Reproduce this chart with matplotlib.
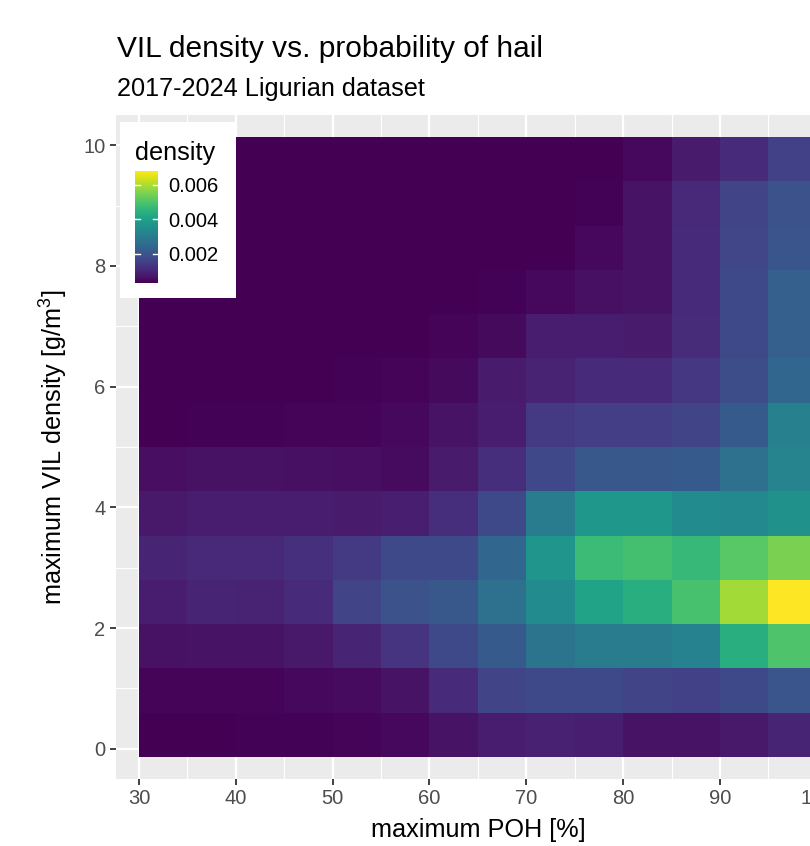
import numpy as np
import matplotlib
matplotlib.use("Agg")
import matplotlib.pyplot as plt
from matplotlib.colors import Normalize

plt.rcParams["font.family"] = ["Liberation Sans", "DejaVu Sans"]
plt.rcParams["mathtext.fontset"] = "custom"
plt.rcParams["mathtext.rm"] = "Liberation Sans"
plt.rcParams["mathtext.it"] = "Liberation Sans:italic"

# ---- data ----
poh_edges = [30, 35, 40, 45, 50, 55, 60, 65, 70, 75, 80, 85, 90, 95, 100]
vil_edges = [-0.13, 0.60, 1.34, 2.07, 2.80, 3.53, 4.27, 5.00, 5.73, 6.47,
             7.20, 7.93, 8.66, 9.40, 10.13]
# density values (x 1e-3), rows from lowest VIL bin to highest, columns by POH bin
density_x1e3 = [
    [0.30, 0.30, 0.33, 0.33, 0.37, 0.43, 0.63, 0.79, 0.89, 0.85, 0.63, 0.63, 0.72, 0.95],
    [0.37, 0.37, 0.37, 0.43, 0.50, 0.63, 1.08, 1.60, 1.73, 1.73, 1.60, 1.54, 1.73, 1.99],
    [0.59, 0.63, 0.63, 0.72, 0.95, 1.28, 1.73, 2.12, 2.77, 2.97, 2.97, 3.16, 4.40, 4.98],
    [0.82, 0.95, 0.92, 1.08, 1.60, 1.93, 2.06, 2.71, 3.42, 4.07, 4.40, 4.92, 5.89, 6.80],
    [0.95, 1.02, 1.02, 1.21, 1.41, 1.73, 1.73, 2.45, 3.68, 4.72, 4.85, 4.66, 5.11, 5.50],
    [0.72, 0.82, 0.82, 0.79, 0.76, 0.85, 1.15, 1.73, 2.97, 3.75, 3.75, 3.42, 3.36, 3.55],
    [0.53, 0.59, 0.59, 0.56, 0.53, 0.50, 0.76, 1.15, 1.70, 2.06, 2.06, 2.12, 2.71, 3.23],
    [0.30, 0.33, 0.33, 0.37, 0.37, 0.43, 0.63, 0.82, 1.41, 1.47, 1.47, 1.60, 2.12, 3.10],
    [0.30, 0.30, 0.30, 0.30, 0.33, 0.37, 0.46, 0.76, 0.92, 1.08, 1.08, 1.34, 1.80, 2.45],
    [0.30, 0.30, 0.30, 0.30, 0.30, 0.30, 0.37, 0.46, 0.79, 0.82, 0.76, 1.11, 1.73, 2.25],
    [0.30, 0.30, 0.30, 0.30, 0.30, 0.30, 0.30, 0.33, 0.43, 0.56, 0.63, 1.08, 1.73, 2.25],
    [0.30, 0.30, 0.30, 0.30, 0.30, 0.30, 0.30, 0.30, 0.30, 0.43, 0.63, 1.08, 1.67, 1.99],
    [0.30, 0.30, 0.30, 0.30, 0.30, 0.30, 0.30, 0.30, 0.30, 0.33, 0.63, 1.02, 1.60, 1.93],
    [0.30, 0.30, 0.30, 0.30, 0.30, 0.30, 0.30, 0.30, 0.30, 0.30, 0.43, 0.76, 1.08, 1.54],
]
x_ticks = [30, 40, 50, 60, 70, 80, 90, 100]
y_ticks = [0, 2, 4, 6, 8, 10]
cbar_ticks = [0.002, 0.004, 0.006]
cbar_labels = ["0.002", "0.004", "0.006"]

title = "VIL density vs. probability of hail"
subtitle = "2017-2024 Ligurian dataset"
xlabel = "maximum POH [%]"
ylabel = r"maximum VIL density [g/m$^{3}$]"

# ---- figure ----
W, H = 810, 846
fig = plt.figure(figsize=(W / 100, H / 100), dpi=100)
fig.patch.set_facecolor("white")

def fx(px):
    return px / W

def fy(py):
    return 1 - py / H

ax = fig.add_axes([fx(116), fy(779), fx(840) - fx(116), fy(115) - fy(779)])
ax.set_facecolor("#EBEBEB")
ax.set_axisbelow(True)

D = np.array(density_x1e3) * 1e-3
norm = Normalize(vmin=D.min(), vmax=D.max())
mesh = ax.pcolormesh(poh_edges, vil_edges, D, cmap="viridis", norm=norm,
                     shading="flat", zorder=2, edgecolors="none")

ax.set_xlim(27.62, 102.4)
ax.set_ylim(-0.5, 10.5)
ax.set_xticks(x_ticks)
ax.set_yticks(y_ticks)
ax.set_xticks([35, 45, 55, 65, 75, 85, 95], minor=True)
ax.set_yticks([1, 3, 5, 7, 9], minor=True)
ax.grid(which="major", color="white", lw=1.6)
ax.grid(which="minor", color="white", lw=0.8)
ax.tick_params(which="minor", length=0)
ax.tick_params(which="major", length=4.5, width=1.3, color="#333333",
               labelcolor="#4D4D4D", labelsize=14.5, pad=3)
for s in ax.spines.values():
    s.set_visible(False)

# titles
fig.text(fx(117), fy(57), title, fontsize=21.5, ha="left", va="baseline")
fig.text(fx(117), fy(96), subtitle, fontsize=18.2, ha="left", va="baseline")
fig.text(fx(478), fy(837), xlabel, fontsize=18.2, ha="center", va="baseline")
fig.text(fx(54), fy(447), ylabel, fontsize=18.2, ha="center", va="center",
         rotation=90)

# legend box
lax = fig.add_axes([fx(120), fy(298), fx(236) - fx(120), fy(122) - fy(298)])
lax.set_facecolor("white")
lax.set_xticks([])
lax.set_yticks([])
for s in lax.spines.values():
    s.set_visible(False)
lax.set_zorder(5)

cax = fig.add_axes([fx(135), fy(283), fx(158) - fx(135), fy(171) - fy(283)])
cax.set_zorder(6)
cb = fig.colorbar(mesh, cax=cax)
cb.outline.set_visible(False)
cb.set_ticks(cbar_ticks)
cb.set_ticklabels(cbar_labels)
cax.tick_params(length=0, labelsize=14.5, pad=7.5, labelcolor="black")
for v in cbar_ticks:
    cax.axhline(v, 0, 0.2, color="white", lw=1)
    cax.axhline(v, 0.8, 1, color="white", lw=1)

t = fig.text(fx(135), fy(160), "density", fontsize=18.2, ha="left",
             va="baseline")
t.set_zorder(7)

fig.savefig("out.png", dpi=100, facecolor="white")
